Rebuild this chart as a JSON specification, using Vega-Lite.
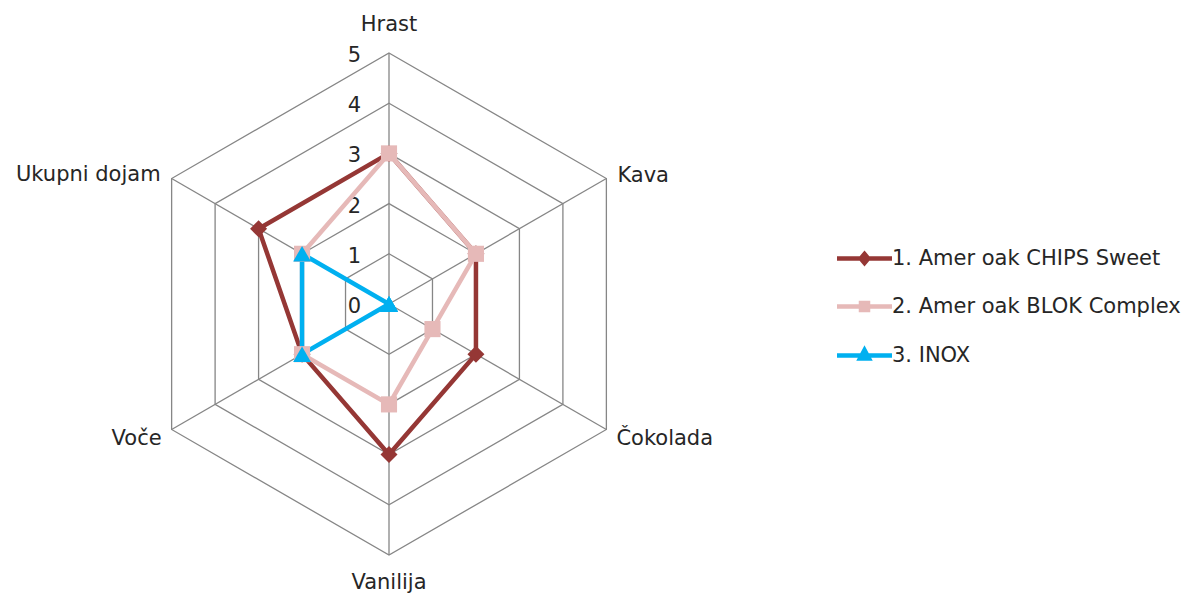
{
  "$schema": "https://vega.github.io/schema/vega-lite/v6.json",
  "width": 1190,
  "height": 597,
  "autosize": {"type": "none"},
  "padding": 0,
  "background": "white",
  "config": {"view": {"stroke": null}, "text": {"font": "DejaVu Sans", "fontSize": 21, "color": "#262626"}},
  "datasets": {
    "scores": [
      {"series": "1. Amer oak CHIPS Sweet", "attribute": "Hrast", "idx": 0, "score": 3},
      {"series": "1. Amer oak CHIPS Sweet", "attribute": "Kava", "idx": 1, "score": 2},
      {"series": "1. Amer oak CHIPS Sweet", "attribute": "Čokolada", "idx": 2, "score": 2},
      {"series": "1. Amer oak CHIPS Sweet", "attribute": "Vanilija", "idx": 3, "score": 3},
      {"series": "1. Amer oak CHIPS Sweet", "attribute": "Voče", "idx": 4, "score": 2},
      {"series": "1. Amer oak CHIPS Sweet", "attribute": "Ukupni dojam", "idx": 5, "score": 3},
      {"series": "2. Amer oak BLOK Complex", "attribute": "Hrast", "idx": 0, "score": 3},
      {"series": "2. Amer oak BLOK Complex", "attribute": "Kava", "idx": 1, "score": 2},
      {"series": "2. Amer oak BLOK Complex", "attribute": "Čokolada", "idx": 2, "score": 1},
      {"series": "2. Amer oak BLOK Complex", "attribute": "Vanilija", "idx": 3, "score": 2},
      {"series": "2. Amer oak BLOK Complex", "attribute": "Voče", "idx": 4, "score": 2},
      {"series": "2. Amer oak BLOK Complex", "attribute": "Ukupni dojam", "idx": 5, "score": 2},
      {"series": "3. INOX", "attribute": "Hrast", "idx": 0, "score": 0},
      {"series": "3. INOX", "attribute": "Kava", "idx": 1, "score": 0},
      {"series": "3. INOX", "attribute": "Čokolada", "idx": 2, "score": 0},
      {"series": "3. INOX", "attribute": "Vanilija", "idx": 3, "score": 0},
      {"series": "3. INOX", "attribute": "Voče", "idx": 4, "score": 2},
      {"series": "3. INOX", "attribute": "Ukupni dojam", "idx": 5, "score": 2}
    ],
    "attributes": [
      {"attribute": "Hrast", "idx": 0, "rings": [1, 2, 3, 4, 5]},
      {"attribute": "Kava", "idx": 1, "rings": [1, 2, 3, 4, 5]},
      {"attribute": "Čokolada", "idx": 2, "rings": [1, 2, 3, 4, 5]},
      {"attribute": "Vanilija", "idx": 3, "rings": [1, 2, 3, 4, 5]},
      {"attribute": "Voče", "idx": 4, "rings": [1, 2, 3, 4, 5]},
      {"attribute": "Ukupni dojam", "idx": 5, "rings": [1, 2, 3, 4, 5]}
    ],
    "ticks": [{"tick": 0}, {"tick": 1}, {"tick": 2}, {"tick": 3}, {"tick": 4}, {"tick": 5}]
  },
  "encoding": {
    "x": {"field": "px", "type": "quantitative", "scale": {"domain": [-7.749, 15.956], "nice": false, "zero": false}, "axis": null},
    "y": {"field": "py", "type": "quantitative", "scale": {"domain": [-5.837, 6.056], "nice": false, "zero": false}, "axis": null}
  },
  "layer": [
    {
      "data": {"name": "attributes"},
      "transform": [
        {"flatten": ["rings"], "as": ["ring"]},
        {"calculate": "datum.ring * sin(datum.idx * PI / 3)", "as": "px"},
        {"calculate": "datum.ring * cos(datum.idx * PI / 3)", "as": "py"}
      ],
      "mark": {"type": "line", "interpolate": "linear-closed", "stroke": "#868686", "strokeWidth": 1.3},
      "encoding": {"detail": {"field": "ring", "type": "nominal"}, "order": {"field": "idx", "type": "quantitative"}}
    },
    {
      "data": {"name": "attributes"},
      "transform": [
        {"calculate": "5 * sin(datum.idx * PI / 3)", "as": "px"},
        {"calculate": "5 * cos(datum.idx * PI / 3)", "as": "py"}
      ],
      "mark": {"type": "rule", "stroke": "#868686", "strokeWidth": 1.3},
      "encoding": {"x2": {"datum": 0}, "y2": {"datum": 0}}
    },
    {
      "data": {"name": "ticks"},
      "transform": [
        {"calculate": "0", "as": "px"},
        {"calculate": "datum.tick", "as": "py"}
      ],
      "mark": {"type": "text", "align": "right", "baseline": "middle", "dx": -28, "dy": 3},
      "encoding": {"text": {"field": "tick", "type": "quantitative"}}
    },
    {
      "data": {"name": "attributes"},
      "transform": [
        {"filter": "datum.idx == 0"},
        {"calculate": "5 * sin(datum.idx * PI / 3)", "as": "px"},
        {"calculate": "5 * cos(datum.idx * PI / 3)", "as": "py"}
      ],
      "mark": {"type": "text", "align": "center", "baseline": "middle", "dy": -28},
      "encoding": {"text": {"field": "attribute", "type": "nominal"}}
    },
    {
      "data": {"name": "attributes"},
      "transform": [
        {"filter": "datum.idx == 1"},
        {"calculate": "5 * sin(datum.idx * PI / 3)", "as": "px"},
        {"calculate": "5 * cos(datum.idx * PI / 3)", "as": "py"}
      ],
      "mark": {"type": "text", "align": "left", "baseline": "middle", "dx": 11, "dy": -3},
      "encoding": {"text": {"field": "attribute", "type": "nominal"}}
    },
    {
      "data": {"name": "attributes"},
      "transform": [
        {"filter": "datum.idx == 2"},
        {"calculate": "5 * sin(datum.idx * PI / 3)", "as": "px"},
        {"calculate": "5 * cos(datum.idx * PI / 3)", "as": "py"}
      ],
      "mark": {"type": "text", "align": "left", "baseline": "middle", "dx": 10, "dy": 10},
      "encoding": {"text": {"field": "attribute", "type": "nominal"}}
    },
    {
      "data": {"name": "attributes"},
      "transform": [
        {"filter": "datum.idx == 3"},
        {"calculate": "5 * sin(datum.idx * PI / 3)", "as": "px"},
        {"calculate": "5 * cos(datum.idx * PI / 3)", "as": "py"}
      ],
      "mark": {"type": "text", "align": "center", "baseline": "middle", "dy": 28},
      "encoding": {"text": {"field": "attribute", "type": "nominal"}}
    },
    {
      "data": {"name": "attributes"},
      "transform": [
        {"filter": "datum.idx == 4"},
        {"calculate": "5 * sin(datum.idx * PI / 3)", "as": "px"},
        {"calculate": "5 * cos(datum.idx * PI / 3)", "as": "py"}
      ],
      "mark": {"type": "text", "align": "right", "baseline": "middle", "dx": -10, "dy": 10},
      "encoding": {"text": {"field": "attribute", "type": "nominal"}}
    },
    {
      "data": {"name": "attributes"},
      "transform": [
        {"filter": "datum.idx == 5"},
        {"calculate": "5 * sin(datum.idx * PI / 3)", "as": "px"},
        {"calculate": "5 * cos(datum.idx * PI / 3)", "as": "py"}
      ],
      "mark": {"type": "text", "align": "right", "baseline": "middle", "dx": -11, "dy": -4},
      "encoding": {"text": {"field": "attribute", "type": "nominal"}}
    },
    {
      "data": {"name": "scores"},
      "transform": [
        {"calculate": "0", "as": "px"},
        {"calculate": "0", "as": "py"}
      ],
      "mark": {"type": "point", "size": 0, "filled": false},
      "encoding": {
        "color": {
          "field": "series", "type": "nominal",
          "scale": {"domain": ["1. Amer oak CHIPS Sweet", "2. Amer oak BLOK Complex", "3. INOX"], "range": ["#953735", "#E6B9B8", "#00B0F0"]},
          "legend": {
            "title": null, "orient": "none", "legendX": 852, "legendY": 246,
            "padding": 0, "symbolOffset": 0, "symbolSize": 400, "symbolStrokeWidth": 4.5, "symbolOpacity": 1,
            "labelFont": "DejaVu Sans", "labelFontSize": 21, "labelColor": "#262626", "labelOffset": 15,
            "labelLimit": 500, "rowPadding": 22
          }
        },
        "shape": {
          "field": "series", "type": "nominal",
          "scale": {"domain": ["1. Amer oak CHIPS Sweet", "2. Amer oak BLOK Complex", "3. INOX"], "range": ["M-2.75,0H2.75M0,-0.45L0.38,0L0,0.45L-0.38,0ZM0,-0.15L0.13,0L0,0.15L-0.13,0Z", "M-2.75,0H2.75M-0.35,-0.35H0.35V0.35H-0.35ZM-0.1,-0.1H0.1V0.1H-0.1Z", "M-2.75,0H2.75M0,-0.55L0.45,0.3H-0.45ZM0,-0.15L0.12,0.08H-0.12Z"]},
          "legend": {
            "title": null, "orient": "none", "legendX": 852, "legendY": 246,
            "padding": 0, "symbolOffset": 0, "symbolSize": 400, "symbolStrokeWidth": 4.5, "symbolOpacity": 1,
            "labelFont": "DejaVu Sans", "labelFontSize": 21, "labelColor": "#262626", "labelOffset": 15,
            "labelLimit": 500, "rowPadding": 22
          }
        }
      }
    },
    {
      "data": {"name": "scores"},
      "transform": [
        {"calculate": "datum.score * sin(datum.idx * PI / 3)", "as": "px"},
        {"calculate": "datum.score * cos(datum.idx * PI / 3)", "as": "py"}
      ],
      "mark": {"type": "line", "interpolate": "linear-closed", "strokeWidth": 4.5},
      "encoding": {
        "color": {"field": "series", "type": "nominal"},
        "order": {"field": "idx", "type": "quantitative"}
      }
    },
    {
      "data": {"name": "scores"},
      "transform": [
        {"filter": "datum.series === '1. Amer oak CHIPS Sweet'"},
        {"calculate": "datum.score * sin(datum.idx * PI / 3)", "as": "px"},
        {"calculate": "datum.score * cos(datum.idx * PI / 3)", "as": "py"}
      ],
      "mark": {"type": "point", "shape": "diamond", "filled": true, "opacity": 1, "size": 290},
      "encoding": {"color": {"field": "series", "type": "nominal"}}
    },
    {
      "data": {"name": "scores"},
      "transform": [
        {"filter": "datum.series === '2. Amer oak BLOK Complex'"},
        {"calculate": "datum.score * sin(datum.idx * PI / 3)", "as": "px"},
        {"calculate": "datum.score * cos(datum.idx * PI / 3)", "as": "py"}
      ],
      "mark": {"type": "point", "shape": "square", "filled": true, "opacity": 1, "size": 260},
      "encoding": {"color": {"field": "series", "type": "nominal"}}
    },
    {
      "data": {"name": "scores"},
      "transform": [
        {"filter": "datum.series === '3. INOX'"},
        {"calculate": "datum.score * sin(datum.idx * PI / 3)", "as": "px"},
        {"calculate": "datum.score * cos(datum.idx * PI / 3)", "as": "py"}
      ],
      "mark": {"type": "point", "shape": "triangle-up", "filled": true, "opacity": 1, "size": 320},
      "encoding": {"color": {"field": "series", "type": "nominal"}}
    }
  ]
}
